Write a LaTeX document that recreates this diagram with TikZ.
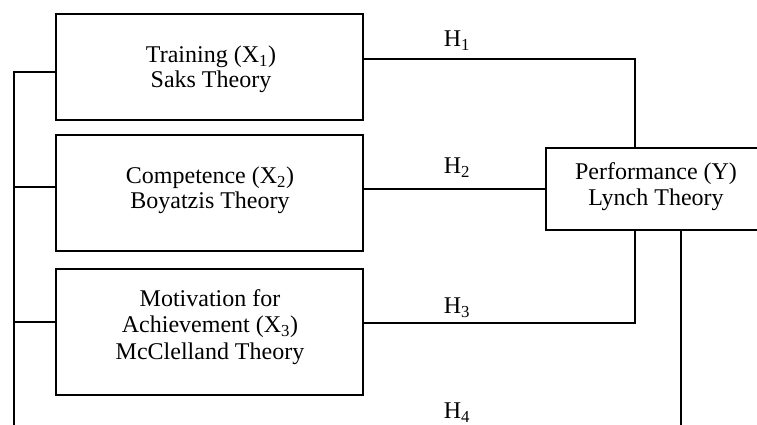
\documentclass[tikz,border=0pt]{standalone}
\usepackage{fontspec}
\setmainfont{Liberation Serif}
\begin{document}
\begin{tikzpicture}[x=1pt,y=-1pt,
  box/.style={draw,line width=2pt,inner sep=0pt},
  txt/.style={align=center,inner sep=0pt,font=\fontsize{24}{26.5}\selectfont},
  lbl/.style={inner sep=0pt,font=\fontsize{24}{26}\selectfont},
  wire/.style={line width=2pt}]
\useasboundingbox (0,0) rectangle (757,425);
\clip (0,0) rectangle (757,425);
\node[box,minimum width=307pt,minimum height=106pt] (x1) at (209.5,67) {};
\node[box,minimum width=307pt,minimum height=116pt] (x2) at (209.5,193) {};
\node[box,minimum width=307pt,minimum height=126pt] (x3) at (209.5,332) {};
\node[box,minimum width=216pt,minimum height=82pt,anchor=north west] (y) at (545,147) {};
\node[txt,font=\fontsize{24}{25}\selectfont] (t1) at (211,69.5) {Training (X\textsubscript{1})\\Saks Theory};
\node[txt,font=\fontsize{24}{25}\selectfont] (t2) at (210,190.5) {Competence (X\textsubscript{2})\\Boyatzis Theory};
\node[txt] (t3) at (210,327) {Motivation for\\Achievement (X\textsubscript{3})\\McClelland Theory};
\node[txt,font=\fontsize{24}{26}\selectfont] (yt) at (656,187) {Performance (Y)\\Lynch Theory};
% left bus
\coordinate (bTop) at (14,72);
\coordinate (b2) at (14,187);
\coordinate (b3) at (14,322);
\coordinate (bBot) at (14,440);
\draw[wire] (bBot) -- (bTop) -- (bTop -| x1.west);
\draw[wire] (b2) -- (b2 -| x2.west);
\draw[wire] (b3) -- (b3 -| x3.west);
% hypotheses
\coordinate (h1s) at (363,59);
\coordinate (h1c) at (635,59);
\coordinate (h3s) at (363,323);
\coordinate (h3c) at (635,323);
\coordinate (h4c) at (681,440);
\draw[wire] (h1s -| x1.east) -- (h1c) -- (h1c |- y.north);
\draw[wire] (x2.east |- y.west) -- (y.west);
\draw[wire] (h3s -| x3.east) -- (h3c) -- (h3c |- y.south);
\draw[wire] (h4c |- y.south) -- (h4c);
\node[lbl] (l1) at (457,41) {H\textsubscript{1}};
\node[lbl] (l2) at (457,168) {H\textsubscript{2}};
\node[lbl] (l3) at (457,308) {H\textsubscript{3}};
\node[lbl] (l4) at (457,413) {H\textsubscript{4}};
\end{tikzpicture}
\end{document}
